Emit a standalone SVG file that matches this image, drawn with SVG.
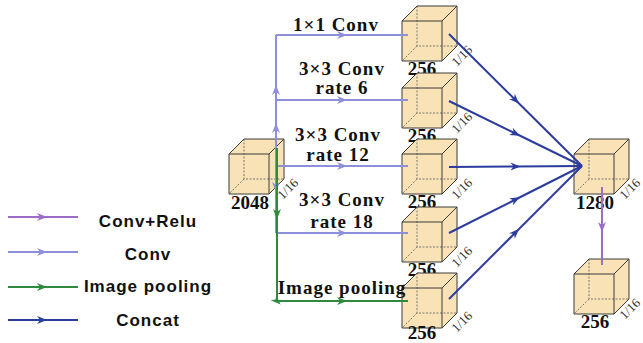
<svg xmlns="http://www.w3.org/2000/svg" xmlns:xlink="http://www.w3.org/1999/xlink" width="643" height="343" viewBox="0 0 643 343">
<style>
.face{fill:#f9e3b6;stroke:none}
.edge{fill:none;stroke:#3a3a3a;stroke-width:1}
.hid{fill:none;stroke:#5a5a5a;stroke-width:0.8;stroke-dasharray:2,1.5}
.lbl{font-family:"Liberation Serif","Times New Roman",serif;font-weight:bold;font-size:19px;fill:#111;text-anchor:middle;letter-spacing:1px}
.num{font-family:"Liberation Serif","Times New Roman",serif;font-weight:bold;font-size:19px;fill:#111;text-anchor:middle}
.frac{font-family:"Liberation Serif","Times New Roman",serif;font-size:13px;fill:#333;text-anchor:middle}
.leg{font-family:"Liberation Sans",Arial,sans-serif;font-weight:bold;font-size:17px;fill:#111;text-anchor:middle;letter-spacing:1px}
.conv{fill:none;stroke:#8c8fdc;stroke-width:2;marker-mid:url(#mConv)}
.pool{fill:none;stroke:#2e8b3e;stroke-width:2;marker-mid:url(#mPool)}
.cat{fill:none;stroke:#2b3c9e;stroke-width:2;marker-mid:url(#mCat)}
.relu{fill:none;stroke:#9c6cc8;stroke-width:2;marker-mid:url(#mRelu)}
</style>
<defs>
<marker id="mConv" viewBox="0 0 10 10" refX="5" refY="5" markerWidth="10" markerHeight="10" markerUnits="userSpaceOnUse" orient="auto"><path d="M0,1 L10,5 L0,9 L3,5 Z" fill="#8c8fdc"/></marker>
<marker id="mPool" viewBox="0 0 10 10" refX="5" refY="5" markerWidth="10" markerHeight="10" markerUnits="userSpaceOnUse" orient="auto"><path d="M0,1 L10,5 L0,9 L3,5 Z" fill="#2e8b3e"/></marker>
<marker id="mCat" viewBox="0 0 10 10" refX="5" refY="5" markerWidth="10" markerHeight="10" markerUnits="userSpaceOnUse" orient="auto"><path d="M0,1 L10,5 L0,9 L3,5 Z" fill="#2b3c9e"/></marker>
<marker id="mRelu" viewBox="0 0 10 10" refX="5" refY="5" markerWidth="10" markerHeight="10" markerUnits="userSpaceOnUse" orient="auto"><path d="M0,1 L10,5 L0,9 L3,5 Z" fill="#9c6cc8"/></marker>
<g id="cube">
<path class="face" d="M0,0 L15,-15 L55,-15 L55,25 L40,40 L0,40 Z"/>
<path class="hid" d="M15,-15 V25 H55 M15,25 L0,40"/>
<path class="edge" d="M0,0 H40 V40 H0 Z M0,0 L15,-15 H55 L40,0 M55,-15 V25 L40,40"/>
</g>
</defs>

<g id="node-2048">
<use href="#cube" x="229" y="154"/>
<text class="num" x="250" y="209">2048</text>
<text class="frac" transform="translate(288,189) rotate(-45)" y="4">1/16</text>
</g>
<g id="node-b1">
<use href="#cube" x="402" y="21"/>
<text class="num" x="422" y="75">256</text>
<text class="frac" transform="translate(462,56) rotate(-45)" y="4">1/16</text>
</g>
<g id="node-b2">
<use href="#cube" x="402" y="88"/>
<text class="num" x="422" y="142">256</text>
<text class="frac" transform="translate(462,123) rotate(-45)" y="4">1/16</text>
</g>
<g id="node-b3">
<use href="#cube" x="402" y="154"/>
<text class="num" x="422" y="208">256</text>
<text class="frac" transform="translate(462,189) rotate(-45)" y="4">1/16</text>
</g>
<g id="node-b4">
<use href="#cube" x="402" y="222"/>
<text class="num" x="422" y="276">256</text>
<text class="frac" transform="translate(462,257) rotate(-45)" y="4">1/16</text>
</g>
<g id="node-b5">
<use href="#cube" x="402" y="288"/>
<text class="num" x="422" y="339">256</text>
<text class="frac" transform="translate(462,322) rotate(-45)" y="4">1/16</text>
</g>
<g id="node-1280">
<use href="#cube" x="574" y="154"/>
<text class="num" x="595" y="209">1280</text>
<text class="frac" transform="translate(630,189) rotate(-45)" y="4">1/16</text>
</g>
<g id="node-out">
<use href="#cube" x="574" y="274"/>
<text class="num" x="595" y="328">256</text>
<text class="frac" transform="translate(630,309) rotate(-45)" y="4">1/16</text>
</g>

<g id="connectors">
<path class="conv" d="M276,166 L276,128 L276,100"/>
<path class="conv" d="M276,100 L276,90 L276,35"/>
<path class="conv" d="M276,166 L276,187 L276,233"/>
<path class="conv" d="M276,35 L342,35 L408,35"/>
<path class="conv" d="M276,100 L342,100 L408,100"/>
<path class="conv" d="M276,166 L342,166 L408,166"/>
<path class="conv" d="M276,233 L342,233 L408,233"/>
<path class="pool" d="M277,148 L277,214 L277,301 L342,301 L408,301"/>
<path class="cat" d="M449,34 L515.5,100 L582,166"/>
<path class="cat" d="M449,101 L515.5,133.5 L582,166"/>
<path class="cat" d="M449,167 L515.5,166.5 L582,166"/>
<path class="cat" d="M449,233 L515.5,199.5 L582,166"/>
<path class="cat" d="M449,299 L515.5,232.5 L582,166"/>
<path class="relu" d="M602,187 L602,227 L602,265"/>
</g>

<g id="labels">
<text class="lbl" x="336" y="31">1×1 Conv</text>
<text class="lbl" x="342" y="75">3×3 Conv</text>
<text class="lbl" x="342" y="94">rate 6</text>
<text class="lbl" x="338" y="141">3×3 Conv</text>
<text class="lbl" x="338" y="161">rate 12</text>
<text class="lbl" x="342" y="206">3×3 Conv</text>
<text class="lbl" x="342" y="228">rate 18</text>
<text class="lbl" x="342" y="294">Image pooling</text>
</g>

<g id="legend">
<path class="relu" d="M8,217 L42,217 L78,217"/>
<path class="conv" d="M8,252 L42,252 L78,252"/>
<path class="pool" d="M8,287 L42,287 L78,287"/>
<path class="cat" d="M8,320 L42,320 L78,320"/>
<text class="leg" x="148" y="227">Conv+Relu</text>
<text class="leg" x="148" y="260">Conv</text>
<text class="leg" x="148" y="292">Image pooling</text>
<text class="leg" x="148" y="326">Concat</text>
</g>
</svg>
